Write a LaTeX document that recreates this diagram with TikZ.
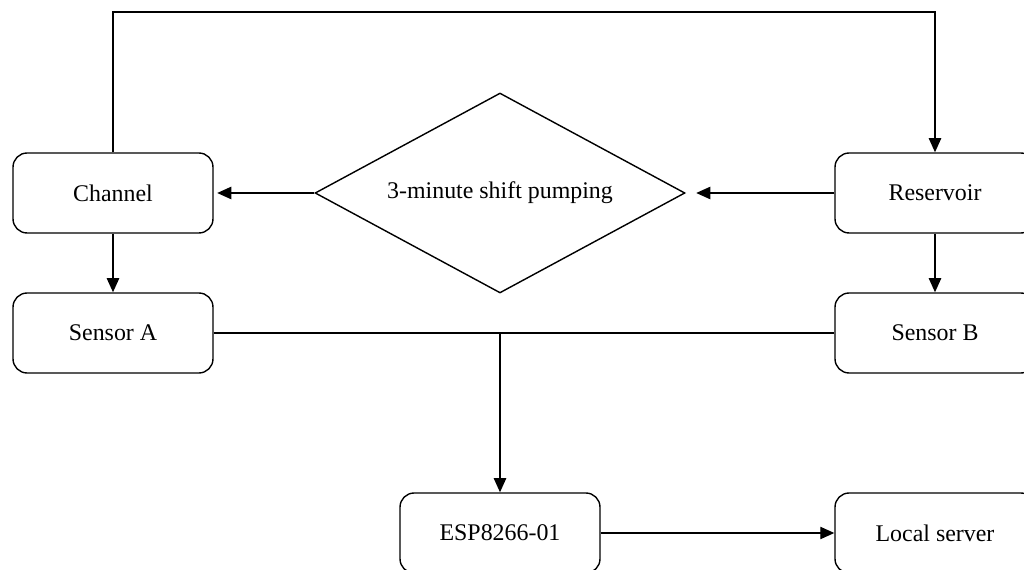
\documentclass[tikz,border=0pt]{standalone}
\usepackage{fontspec}
\setmainfont{Liberation Serif}
\usetikzlibrary{shapes.geometric,arrows.meta}
\tikzset{
  box/.style={draw, rounded corners=8pt, minimum width=4cm, minimum height=1.6cm, inner sep=0pt},
  decision/.style={draw, diamond, shape aspect=1.85, minimum width=7.4cm, minimum height=4cm, inner sep=0pt},
  arr/.style={-{Triangle[length=8pt,width=7pt]}}
}
\begin{document}
\begin{tikzpicture}[x=0.02cm, y=-0.02cm, line width=0.8pt, font=\fontsize{13.6}{16}\selectfont]
\useasboundingbox (0,0) rectangle (1024,570);
\clip (0,0) rectangle (1024,570);
% boxes
\node[box] (channel) at (113,193) {Channel};
\node[box] (sensorA) at (113,333) {Sensor A};
\node[decision] (pump) at (500,193) {3-minute shift pumping};
\node[box] (reservoir) at (935,193) {Reservoir};
\node[box] (sensorB) at (935,333) {Sensor B};
\node[box] (esp) at (500,533) {ESP8266-01};
\node[box] (server) at (935,533) {Local server};
\coordinate (topline) at (500,12);
% connectors
\draw[arr] (channel.north) |- (topline) -| (reservoir.north);
\draw[arr, shorten >=6pt] (reservoir.west) -- (pump.east);
\draw[arr, shorten >=2pt] (pump.west) -- (channel.east);
\draw[arr] (channel.south) -- (sensorA.north);
\draw[arr] (reservoir.south) -- (sensorB.north);
\draw (sensorA.east) -- (sensorB.west);
\draw[arr] (esp.north |- sensorA.east) -- (esp.north);
\draw[arr] (esp.east) -- (server.west);
\end{tikzpicture}
\end{document}
